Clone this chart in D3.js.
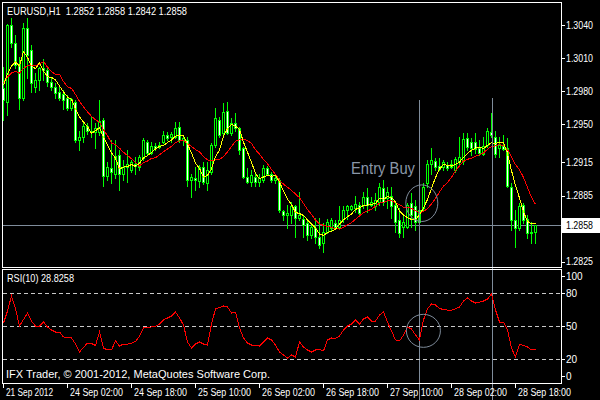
<!DOCTYPE html>
<html><head><meta charset="utf-8">
<script src="https://cdn.jsdelivr.net/npm/d3@7"></script>
<style>
html,body{margin:0;padding:0;background:#000;}
svg{display:block;}
text{font-family:"Liberation Sans",Arial,sans-serif;white-space:pre;}
</style>
</head><body>
<svg id="c" width="600" height="400"></svg>
<script>
// ---------------- data ----------------
const symbolTitle = "EURUSD,H1";
const lastOHLC = ["1.2852", "1.2858", "1.2842", "1.2858"];
const rsiTitle = "RSI(10) 28.8258";
const copyright = "IFX Trader, \u00A9 2001-2012, MetaQuotes Software Corp.";
const timeLabels = ["21 Sep 2012", "24 Sep 02:00", "24 Sep 18:00", "25 Sep 10:00", "26 Sep 02:00",
  "26 Sep 18:00", "27 Sep 10:00", "28 Sep 02:00", "28 Sep 18:00"];
const timeLabelBars = [0, 16, 32, 48, 64, 80, 96, 112, 128];
const priceTicks = [1.3040, 1.3010, 1.2980, 1.2950, 1.2915, 1.2885, 1.2825];
const rsiLevels = [80, 50, 20];
const rsiTicks = [100, 80, 50, 20, 0];
const lastPrice = 1.2858;
const priorCloses = [1.2990, 1.2986, 1.2992, 1.2988, 1.2994, 1.2990, 1.2988, 1.2985, 1.2992];

const opens = [1.2983,1.2970,1.3040,1.3024,1.3005,1.2974,1.3037,1.3017,1.2984,1.2990,
1.3001,1.2999,1.2988,1.2984,1.2979,1.2977,1.2974,1.2965,1.2970,1.2935,
1.2938,1.2948,1.2944,1.2943,1.2943,1.2954,1.2903,1.2910,1.2905,1.2922,
1.2905,1.2911,1.2908,1.2914,1.2911,1.2919,1.2934,1.2924,1.2930,1.2929,
1.2934,1.2940,1.2938,1.2938,1.2947,1.2935,1.2935,1.2899,1.2901,1.2898,
1.2911,1.2896,1.2906,1.2931,1.2954,1.2942,1.2962,1.2942,1.2951,1.2946,
1.2928,1.2902,1.2897,1.2902,1.2897,1.2899,1.2910,1.2905,1.2899,1.2899,
1.2871,1.2867,1.2867,1.2875,1.2865,1.2864,1.2860,1.2849,1.2855,1.2847,
1.2842,1.2852,1.2855,1.2860,1.2856,1.2864,1.2872,1.2873,1.2874,1.2876,
1.2876,1.2884,1.2876,1.2875,1.2879,1.2892,1.2883,1.2885,1.2876,1.2863,
1.2856,1.2856,1.2878,1.2875,1.2861,1.2874,1.2896,1.2914,1.2916,1.2912,
1.2911,1.2913,1.2911,1.2908,1.2915,1.2916,1.2937,1.2934,1.2934,1.2928,
1.2923,1.2931,1.2943,1.2938,1.2928,1.2930,1.2928,1.2893,1.2863,1.2855,
1.2876,1.2864,1.2851,1.2852];
const highs = [1.3002,1.3041,1.3046,1.3031,1.3011,1.3042,1.3046,1.3022,1.2996,1.3002,
1.3009,1.3003,1.2992,1.2987,1.2984,1.2981,1.2976,1.2974,1.2972,1.2944,
1.2952,1.2951,1.2956,1.2951,1.2972,1.2955,1.2915,1.2935,1.2935,1.2926,
1.2917,1.2926,1.2917,1.2920,1.2922,1.2937,1.2935,1.2934,1.2933,1.2934,
1.2944,1.2943,1.2943,1.2952,1.2952,1.2940,1.2938,1.2905,1.2911,1.2913,
1.2915,1.2915,1.2933,1.2965,1.2956,1.2969,1.2970,1.2955,1.2960,1.2947,
1.2929,1.2910,1.2908,1.2906,1.2905,1.2913,1.2912,1.2906,1.2903,1.2901,
1.2872,1.2876,1.2879,1.2876,1.2888,1.2867,1.2864,1.2860,1.2865,1.2865,
1.2860,1.2864,1.2865,1.2863,1.2875,1.2875,1.2876,1.2876,1.2885,1.2879,
1.2888,1.2892,1.2884,1.2887,1.2896,1.2899,1.2893,1.2893,1.2878,1.2874,
1.2867,1.2878,1.2887,1.2881,1.2878,1.2896,1.2917,1.2928,1.2919,1.2919,
1.2917,1.2915,1.2917,1.2920,1.2938,1.2942,1.2942,1.2937,1.2942,1.2935,
1.2938,1.2946,1.2960,1.2944,1.2938,1.2940,1.2937,1.2896,1.2872,1.2878,
1.2878,1.2867,1.2861,1.2858];
const lows = [1.2954,1.2958,1.3020,1.3001,1.2964,1.2972,1.2992,1.2979,1.2979,1.2981,
1.2990,1.2985,1.2981,1.2974,1.2972,1.2964,1.2963,1.2963,1.2934,1.2926,
1.2934,1.2941,1.2938,1.2928,1.2940,1.2894,1.2899,1.2896,1.2901,1.2890,
1.2899,1.2897,1.2906,1.2905,1.2908,1.2917,1.2922,1.2923,1.2926,1.2928,
1.2933,1.2935,1.2934,1.2937,1.2934,1.2931,1.2894,1.2884,1.2890,1.2893,
1.2895,1.2890,1.2905,1.2929,1.2938,1.2940,1.2941,1.2940,1.2944,1.2923,
1.2901,1.2896,1.2894,1.2894,1.2894,1.2897,1.2904,1.2897,1.2896,1.2870,
1.2863,1.2855,1.2860,1.2847,1.2863,1.2847,1.2845,1.2846,1.2842,1.2837,
1.2834,1.2851,1.2854,1.2855,1.2855,1.2861,1.2864,1.2872,1.2870,1.2867,
1.2874,1.2870,1.2875,1.2872,1.2876,1.2876,1.2874,1.2865,1.2852,1.2847,
1.2847,1.2855,1.2856,1.2854,1.2833,1.2872,1.2893,1.2905,1.2908,1.2908,
1.2908,1.2908,1.2910,1.2906,1.2913,1.2914,1.2926,1.2922,1.2924,1.2922,
1.2922,1.2929,1.2938,1.2920,1.2920,1.2926,1.2893,1.2854,1.2838,1.2854,
1.2860,1.2846,1.2842,1.2842];
const closes = [1.2972,1.3040,1.3024,1.3004,1.2974,1.3037,1.3013,1.2987,1.2990,1.3001,
1.2999,1.2988,1.2984,1.2978,1.2974,1.2972,1.2965,1.2973,1.2935,1.2938,
1.2948,1.2944,1.2943,1.2946,1.2953,1.2903,1.2911,1.2906,1.2921,1.2905,
1.2911,1.2914,1.2915,1.2912,1.2920,1.2935,1.2924,1.2930,1.2928,1.2931,
1.2940,1.2937,1.2941,1.2946,1.2935,1.2937,1.2899,1.2902,1.2899,1.2911,
1.2897,1.2908,1.2931,1.2955,1.2940,1.2961,1.2942,1.2951,1.2946,1.2926,
1.2902,1.2897,1.2904,1.2897,1.2901,1.2910,1.2905,1.2899,1.2901,1.2872,
1.2867,1.2869,1.2875,1.2865,1.2867,1.2858,1.2849,1.2856,1.2847,1.2840,
1.2852,1.2861,1.2863,1.2856,1.2863,1.2872,1.2875,1.2875,1.2877,1.2869,
1.2884,1.2876,1.2879,1.2881,1.2893,1.2879,1.2888,1.2875,1.2861,1.2851,
1.2861,1.2876,1.2867,1.2861,1.2872,1.2893,1.2914,1.2917,1.2911,1.2909,
1.2915,1.2910,1.2914,1.2918,1.2920,1.2936,1.2929,1.2928,1.2927,1.2924,
1.2930,1.2944,1.2940,1.2923,1.2931,1.2927,1.2894,1.2863,1.2855,1.2875,
1.2863,1.2851,1.2852,1.2858];
const rsi = [52.7,63.6,77.3,65.5,50.0,55.9,61.8,54.5,50.0,50.0,
53.6,49.1,46.4,44.5,44.5,40.0,39.5,39.1,33.6,26.4,
30.5,34.5,34.1,32.3,44.5,30.0,28.2,28.2,36.4,31.8,
33.6,33.6,34.5,35.9,40.9,48.2,48.6,49.1,49.5,51.8,
55.5,57.3,59.1,62.7,57.3,50.9,35.5,30.0,33.6,35.5,
33.6,32.7,51.8,65.5,66.8,68.2,67.3,61.8,62.7,48.2,
39.1,34.5,32.7,32.3,31.8,35.5,39.1,37.3,32.7,26.4,
23.6,20.9,23.6,21.8,35.5,30.9,28.2,26.4,28.2,28.6,
27.3,37.3,39.1,38.6,40.9,46.4,50.0,51.8,55.5,51.8,
56.4,58.2,54.5,54.5,60.0,62.7,53.6,45.5,37.3,36.4,
41.8,49.1,47.3,41.8,37.3,55.5,65.5,70.0,69.1,65.9,
65.0,64.5,64.5,65.5,67.3,72.7,75.5,72.7,70.9,71.8,
72.7,74.5,79.1,64.5,53.6,53.6,46.4,30.0,21.8,33.6,
32.3,30.9,28.2,28.8258];

// annotations
const entryLineBars = [104, 122.25];
const entryLineTops = [1.2972, 1.2974];
const entryText = "Entry Buy";
const entryTextBar = 87, entryTextPrice = 1.2905;
const entryCircleBar = 104.7, entryCirclePrice = 1.2878, entryCircleRsi = 45.6;

// ---------------- layout ----------------
const n = closes.length;
const svg = d3.select("#c");
svg.append("rect").attr("width", 600).attr("height", 400).attr("fill", "#000");

const left = 2, right = 561, mainTop = 2, mainBottom = 267, rsiTop = 269, rsiBottom = 383;
const x = d3.scaleLinear().domain([0, n - 1]).range([3, 3 + 4 * (n - 1)]);
const y = d3.scaleLinear().domain([1.2820, 1.3060]).range([267, 3]);
const yr = d3.scaleLinear().domain([0, 100]).range([381, 271]);

const defs = svg.append("defs");
defs.append("clipPath").attr("id", "mclip").append("rect")
  .attr("x", left + 1).attr("y", mainTop + 1).attr("width", right - left - 1).attr("height", mainBottom - mainTop - 1);
defs.append("clipPath").attr("id", "rclip").append("rect")
  .attr("x", left + 1).attr("y", rsiTop + 1).attr("width", right - left - 1).attr("height", rsiBottom - rsiTop - 1);

const lineGrey = "#7f8c9b";
const main = svg.append("g").attr("clip-path", "url(#mclip)");

// bid line
main.append("line").attr("x1", left).attr("x2", right)
  .attr("y1", Math.round(y(lastPrice)) + 0.5).attr("y2", Math.round(y(lastPrice)) + 0.5)
  .attr("stroke", lineGrey).attr("stroke-width", 1).attr("shape-rendering", "crispEdges");

// candles
const bars = d3.range(n).map(i => ({i, o: opens[i], h: highs[i], l: lows[i], c: closes[i]}));
const cg = main.append("g").attr("shape-rendering", "crispEdges");
cg.selectAll("rect.wick").data(bars).join("rect").attr("class", "wick")
  .attr("x", d => x(d.i)).attr("y", d => Math.round(y(d.h)))
  .attr("width", 1).attr("height", d => Math.max(1, Math.round(y(d.l)) - Math.round(y(d.h)) + 1))
  .attr("fill", "#00ff00");
const bt = d => Math.round(y(Math.max(d.o, d.c)));
const bb = d => Math.round(y(Math.min(d.o, d.c)));
cg.selectAll("rect.body").data(bars).join("rect").attr("class", "body")
  .attr("x", d => x(d.i) - 1).attr("y", bt).attr("width", 3)
  .attr("height", d => Math.max(1, bb(d) - bt(d) + 1)).attr("fill", "#00ff00");
cg.selectAll("rect.inner").data(bars.filter(d => bb(d) - bt(d) >= 2)).join("rect").attr("class", "inner")
  .attr("x", d => x(d.i)).attr("y", d => bt(d) + 1).attr("width", 1)
  .attr("height", d => bb(d) - bt(d) - 1).attr("fill", d => d.c > d.o ? "#000" : "#fff");

// moving averages
const allCloses = priorCloses.concat(closes);
function sma(p) {
  return closes.map((_, i) => {
    const k = i + priorCloses.length;
    return d3.mean(allCloses.slice(k - p + 1, k + 1));
  });
}
const maFast = sma(5), maSlow = sma(10);
const maLine = d3.line().x((d, i) => x(i) + 0.5).y(d => y(d));
main.append("path").datum(maSlow).attr("d", maLine).attr("fill", "none")
  .attr("stroke", "#ff0000").attr("stroke-width", 1).attr("shape-rendering", "crispEdges");
main.append("path").datum(maFast).attr("d", maLine).attr("fill", "none")
  .attr("stroke", "#ffff00").attr("stroke-width", 1).attr("shape-rendering", "crispEdges");

// annotations
svg.selectAll("line.entry").data(entryLineBars).join("line").attr("class", "entry")
  .attr("x1", d => Math.round(x(d)) + 0.5).attr("x2", d => Math.round(x(d)) + 0.5)
  .attr("y1", (d, i) => y(entryLineTops[i])).attr("y2", 400)
  .attr("stroke", lineGrey).attr("stroke-width", 1).attr("shape-rendering", "crispEdges");
main.append("ellipse").attr("cx", x(entryCircleBar)).attr("cy", y(entryCirclePrice))
  .attr("rx", 16).attr("ry", 18.3).attr("fill", "none").attr("stroke", lineGrey).attr("stroke-width", 1);
main.append("text").attr("x", x(entryTextBar)).attr("y", y(entryTextPrice))
  .attr("font-size", 17).attr("fill", "#8a97a8").attr("textLength", 64)
  .attr("lengthAdjust", "spacingAndGlyphs").text(entryText);

// header
svg.append("text").attr("x", 7).attr("y", 15).attr("font-size", 10.5).attr("fill", "#fff")
  .attr("textLength", 180).attr("lengthAdjust", "spacingAndGlyphs")
  .text(symbolTitle + "  " + lastOHLC.join(" "));

// ---------------- RSI pane ----------------
const rg = svg.append("g").attr("clip-path", "url(#rclip)");
rg.selectAll("line.lvl").data(rsiLevels).join("line").attr("class", "lvl")
  .attr("x1", left + 1).attr("x2", right)
  .attr("y1", d => Math.round(yr(d)) + 0.5).attr("y2", d => Math.round(yr(d)) + 0.5)
  .attr("stroke", "#c8c8c8").attr("stroke-dasharray", "4,3").attr("shape-rendering", "crispEdges");
rg.append("path").datum(rsi).attr("d", d3.line().x((d, i) => x(i) + 0.5).y(d => yr(d)))
  .attr("fill", "none").attr("stroke", "#ff0000").attr("stroke-width", 1).attr("shape-rendering", "crispEdges");
rg.append("ellipse").attr("cx", x(entryCircleBar + 0.4)).attr("cy", yr(entryCircleRsi))
  .attr("rx", 17).attr("ry", 16.5).attr("fill", "none").attr("stroke", lineGrey).attr("stroke-width", 1);
svg.append("text").attr("x", 7).attr("y", 282).attr("font-size", 10.5).attr("fill", "#fff")
  .attr("textLength", 67).attr("lengthAdjust", "spacingAndGlyphs").text(rsiTitle);
svg.append("text").attr("x", 6).attr("y", 378).attr("font-size", 11).attr("fill", "#fff")
  .attr("textLength", 264).attr("lengthAdjust", "spacingAndGlyphs").text(copyright);

// ---------------- frames ----------------
const frames = svg.append("g").attr("fill", "none").attr("stroke", "#fff").attr("shape-rendering", "crispEdges");
frames.append("rect").attr("x", left + 0.5).attr("y", mainTop + 0.5)
  .attr("width", right - left).attr("height", mainBottom - mainTop);
frames.append("rect").attr("x", left + 0.5).attr("y", rsiTop + 0.5)
  .attr("width", right - left).attr("height", rsiBottom - rsiTop);

// ---------------- axes ----------------
const ax = svg.append("g").attr("shape-rendering", "crispEdges");
// price axis
const bidY = y(lastPrice);
ax.selectAll("line.pt").data(priceTicks).join("line").attr("class", "pt")
  .attr("x1", right).attr("x2", right + 4)
  .attr("y1", d => Math.round(y(d)) + 0.5).attr("y2", d => Math.round(y(d)) + 0.5).attr("stroke", "#fff");
svg.selectAll("text.pl").data(priceTicks).join("text").attr("class", "pl")
  .attr("x", 566).attr("y", d => y(d) + 3.6).attr("font-size", 10).attr("fill", "#fff")
  .attr("textLength", 27).attr("lengthAdjust", "spacingAndGlyphs").text(d => d.toFixed(4));
svg.append("rect").attr("x", 562).attr("y", Math.round(bidY) - 7).attr("width", 38).attr("height", 15).attr("fill", "#fff");
svg.append("text").attr("x", 566).attr("y", bidY + 3.6).attr("font-size", 10).attr("fill", "#000")
  .attr("textLength", 27).attr("lengthAdjust", "spacingAndGlyphs").text(lastPrice.toFixed(4));
// rsi axis
const rsiLabelY = v => Math.min(Math.max(yr(v), rsiTop + 7), rsiBottom - 7);
ax.selectAll("line.rt").data(rsiTicks).join("line").attr("class", "rt")
  .attr("x1", right).attr("x2", right + 4)
  .attr("y1", d => Math.round(rsiLabelY(d)) + 0.5).attr("y2", d => Math.round(rsiLabelY(d)) + 0.5).attr("stroke", "#fff");
svg.selectAll("text.rl").data(rsiTicks).join("text").attr("class", "rl")
  .attr("x", 566).attr("y", d => rsiLabelY(d) + 3.6).attr("font-size", 10).attr("fill", "#fff")
  .text(d => String(d));
// time axis
ax.selectAll("line.tt").data(timeLabelBars).join("line").attr("class", "tt")
  .attr("x1", d => x(d) + 0.5).attr("x2", d => x(d) + 0.5)
  .attr("y1", rsiBottom).attr("y2", rsiBottom + 5).attr("stroke", "#fff");
svg.selectAll("text.tl").data(timeLabelBars).join("text").attr("class", "tl")
  .attr("x", d => x(d) + 3).attr("y", 396).attr("font-size", 10).attr("fill", "#fff")
  .attr("textLength", (d, i) => i === 0 ? 47 : 53).attr("lengthAdjust", "spacingAndGlyphs")
  .text((d, i) => timeLabels[i]);
</script>
</body></html>
